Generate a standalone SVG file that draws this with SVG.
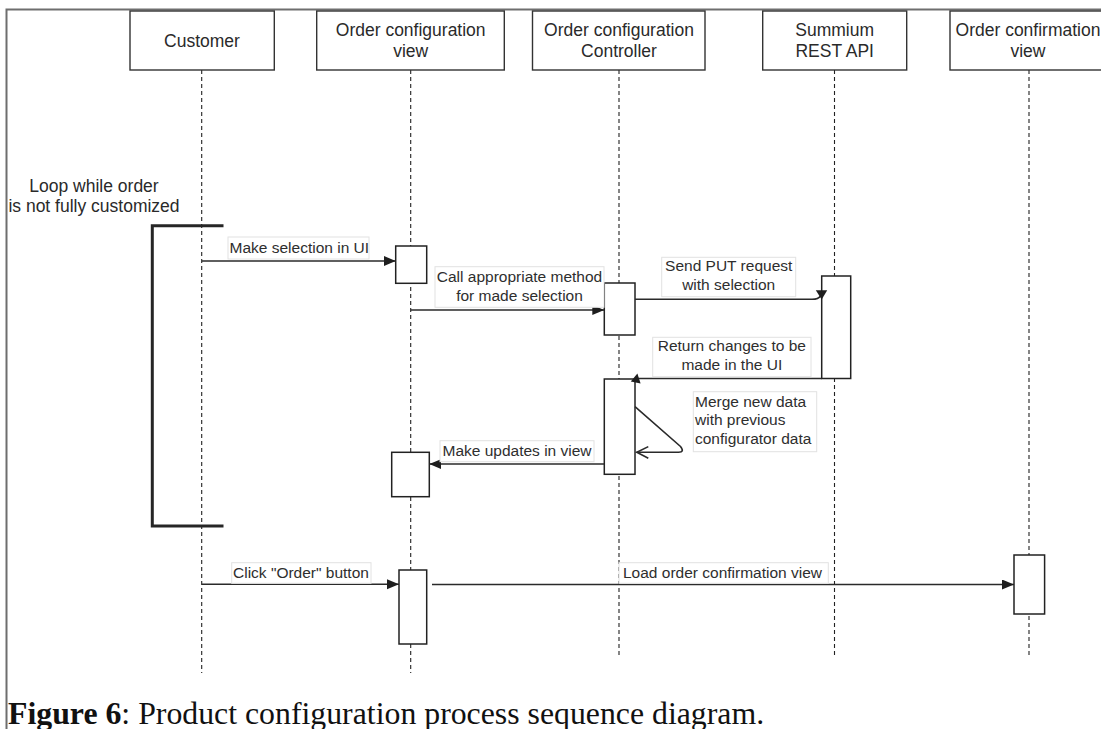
<svg xmlns="http://www.w3.org/2000/svg" width="1101" height="729" viewBox="0 0 1101 729">
  <style>
    .frame { stroke: #6e6e6e; stroke-width: 2; fill: none; }
    .head { fill: #ffffff; stroke: #333333; stroke-width: 1.4; }
    .life { stroke: #222222; stroke-width: 1.1; stroke-dasharray: 4 3; fill: none; }
    .act { fill: #ffffff; stroke: #222222; stroke-width: 1.5; }
    .htxt { font-family: "Liberation Sans", Arial, sans-serif; font-size: 17.5px; fill: #2a2a2a; text-anchor: middle; }
    .ltxt { font-family: "Liberation Sans", Arial, sans-serif; font-size: 15.5px; fill: #2e2e2e; }
    .mid { text-anchor: middle; }
    .lbl { fill: #ffffff; stroke: #e2e2e2; stroke-width: 1; }
    .msg { stroke: #2a2a2a; stroke-width: 1.6; fill: none; }
    .loop { stroke: #262626; stroke-width: 3; fill: none; }
    .cap { font-family: "Liberation Serif", "Times New Roman", serif; font-size: 31.8px; fill: #111111; }
  </style>
  <defs>
    <marker id="solid" markerUnits="userSpaceOnUse" markerWidth="13" markerHeight="11" refX="12" refY="5" orient="auto">
      <path d="M0,0 L12,5 L0,10 Z" fill="#1e1e1e"/>
    </marker>
  </defs>

  <rect width="1101" height="729" fill="#ffffff"/>

  <!-- page frame -->
  <path class="frame" d="M6.5,729 L6.5,9.5 L1101,9.5"/>

  <!-- participants -->
  <g id="customer">
    <line class="life" x1="201.7" y1="70" x2="201.7" y2="673"/>
    <rect class="head" x="130" y="11" width="144.3" height="59"/>
    <text class="htxt" x="202" y="46.5">Customer</text>
  </g>
  <g id="order-configuration-view">
    <line class="life" x1="410.7" y1="70" x2="410.7" y2="673"/>
    <rect class="head" x="316.7" y="11" width="187.6" height="59"/>
    <text class="htxt" x="410.7" y="35.5">Order configuration</text>
    <text class="htxt" x="410.7" y="57">view</text>
  </g>
  <g id="order-configuration-controller">
    <line class="life" x1="619" y1="70" x2="619" y2="657"/>
    <rect class="head" x="532.5" y="11" width="172.5" height="59"/>
    <text class="htxt" x="619" y="35.5">Order configuration</text>
    <text class="htxt" x="619" y="57">Controller</text>
  </g>
  <g id="summium-rest-api">
    <line class="life" x1="834.5" y1="70" x2="834.5" y2="657"/>
    <rect class="head" x="762.7" y="11" width="144" height="59"/>
    <text class="htxt" x="834.7" y="35.5">Summium</text>
    <text class="htxt" x="834.7" y="57">REST API</text>
  </g>
  <g id="order-confirmation-view">
    <line class="life" x1="1029" y1="70" x2="1029" y2="657"/>
    <rect class="head" x="950" y="11" width="158" height="59"/>
    <text class="htxt" x="1028" y="35.5">Order confirmation</text>
    <text class="htxt" x="1028" y="57">view</text>
  </g>

  <!-- loop fragment -->
  <g id="loop">
    <path class="loop" d="M223.5,225.7 L152.3,225.7 L152.3,526 L223.5,526"/>
    <text class="htxt" x="94" y="191.5">Loop while order</text>
    <text class="htxt" x="94" y="211.5">is not fully customized</text>
  </g>

  <!-- activation bars -->
  <g id="activations">
    <rect class="act" x="395.7" y="246" width="31" height="37.3"/>
    <rect class="act" x="604.3" y="283" width="30.7" height="52"/>
    <rect class="act" x="821.7" y="276" width="29" height="102.5"/>
    <rect class="act" x="604.3" y="379" width="30.7" height="95.3"/>
    <rect class="act" x="391.7" y="452.3" width="37.6" height="44.4"/>
    <rect class="act" x="399" y="570" width="27.7" height="74"/>
    <rect class="act" x="1014" y="555" width="30.6" height="59"/>
  </g>

  <!-- messages -->
  <g id="connectors">
    <!-- Make selection in UI -->
    <line class="msg" x1="202" y1="261" x2="395.7" y2="261" marker-end="url(#solid)"/>
    <rect class="lbl" x="228" y="237" width="141" height="22"/>
    <text class="ltxt" x="229.5" y="252.5">Make selection in UI</text>

    <!-- Call appropriate method -->
    <line class="msg" x1="410.7" y1="310" x2="604.3" y2="310" marker-end="url(#solid)"/>
    <rect class="lbl" x="435" y="266.7" width="169" height="40.6"/>
    <text class="ltxt mid" x="519.5" y="282">Call appropriate method</text>
    <text class="ltxt mid" x="519.5" y="300.5">for made selection</text>

    <!-- Send PUT request -->
    <path class="msg" d="M635,299.3 L812,299.3 Q818.5,299.3 820.5,296"/>
    <path d="M815.8,290.3 L827.2,290.3 L821.7,299.5 Z" fill="#1e1e1e"/>
    <rect class="lbl" x="661.7" y="257.3" width="134" height="39.4"/>
    <text class="ltxt mid" x="728.7" y="271">Send PUT request</text>
    <text class="ltxt mid" x="728.7" y="289.5">with selection</text>

    <!-- Return changes -->
    <line class="msg" x1="821.7" y1="378.5" x2="636" y2="378.5"/>
    <path d="M630.8,381.6 L640.6,383.4 L637.4,373.6 Z" fill="#1e1e1e"/>
    <rect class="lbl" x="652.7" y="337.3" width="158.3" height="39.4"/>
    <text class="ltxt mid" x="731.8" y="351">Return changes to be</text>
    <text class="ltxt mid" x="731.8" y="369.5">made in the UI</text>

    <!-- Merge new data (self call) -->
    <path class="msg" stroke-width="1.3" d="M635,406.7 L680.5,446.5 Q685,452.3 678.5,452.3 L636.5,452.3"/>
    <path class="msg" stroke-width="1.3" d="M648.3,446.6 L636.8,452.3 L648.3,458.2"/>
    <rect class="lbl" x="693.3" y="391.7" width="123.4" height="60"/>
    <text class="ltxt" x="695" y="406.5">Merge new data</text>
    <text class="ltxt" x="695" y="425">with previous</text>
    <text class="ltxt" x="695" y="443.5">configurator data</text>

    <!-- Make updates in view -->
    <line class="msg" x1="604.3" y1="464" x2="429.3" y2="464" marker-end="url(#solid)"/>
    <rect class="lbl" x="440" y="440.7" width="154" height="21"/>
    <text class="ltxt" x="442.5" y="456">Make updates in view</text>

    <!-- Click "Order" button -->
    <line class="msg" x1="202" y1="584.3" x2="399" y2="584.3" marker-end="url(#solid)"/>
    <rect class="lbl" x="231.7" y="562.7" width="139.3" height="20.6"/>
    <text class="ltxt" x="233" y="577.5">Click "Order" button</text>

    <!-- Load order confirmation view -->
    <line class="msg" x1="432" y1="584.5" x2="1014" y2="584.5" marker-end="url(#solid)"/>
    <rect class="lbl" x="619" y="562.7" width="209.3" height="20.6"/>
    <text class="ltxt" x="623" y="577.5">Load order confirmation view</text>
  </g>

  <!-- caption -->
  <text class="cap" x="8" y="724"><tspan font-weight="bold">Figure 6</tspan>: Product configuration process sequence diagram.</text>
</svg>
